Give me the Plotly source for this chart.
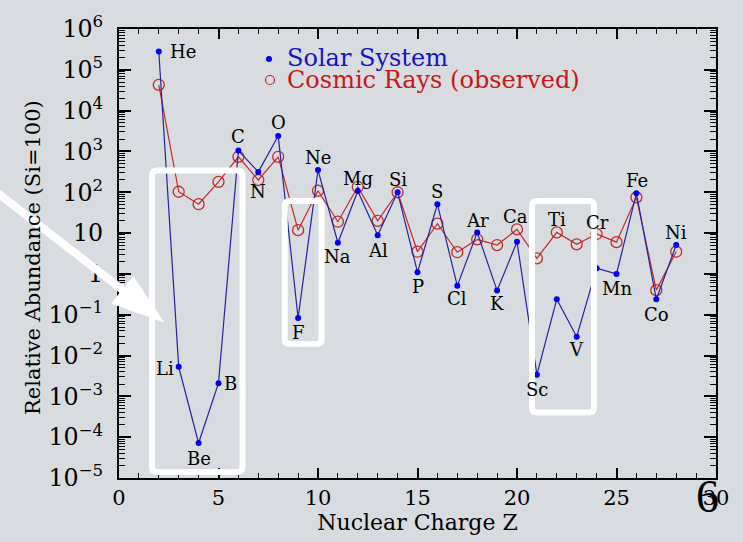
import math
import plotly.graph_objects as go

# ---------------- data ----------------
Z = list(range(2, 29))
elements = ["He", "Li", "Be", "B", "C", "N", "O", "F", "Ne", "Na", "Mg", "Al", "Si", "P",
            "S", "Cl", "Ar", "K", "Ca", "Sc", "Ti", "V", "Cr", "Mn", "Fe", "Co", "Ni"]
solar = [2.8e5, 5.3e-3, 7.2e-5, 2.1e-3, 1050, 316, 2400, 0.083, 350, 5.8, 108, 8.9, 100, 1.1,
         51, 0.51, 10.4, 0.39, 6.1, 3.4e-3, 0.24, 0.029, 1.38, 1.0, 94, 0.24, 5.1]
cosmic = [4.3e4, 103, 51, 180, 740, 200, 740, 11.8, 109, 19, 135, 20, 100, 3.5,
          17, 3.4, 7.0, 5.1, 12.3, 2.4, 10.4, 5.3, 9.5, 6.0, 75, 0.40, 3.5]
series_names = ["Solar System", "Cosmic Rays (observed)"]
x_title = "Nuclear Charge Z"
y_title = "Relative Abundance (Si=100)"

# label placement: (series to anchor, dx px, dy px (down positive))
label_pos = {
    "He": ("s", 24, 0), "Li": ("s", -14, 2), "Be": ("s", 0, 15), "B": ("s", 12, 0),
    "C": ("s", 0, -14), "N": ("s", 0, 20), "O": ("s", 0, -13), "F": ("s", 0, 14),
    "Ne": ("s", 0, -13), "Na": ("s", 0, 14), "Mg": ("s", 0, -12), "Al": ("s", 0, 15),
    "Si": ("s", 0, -13), "P": ("s", 0, 14), "S": ("s", 0, -13), "Cl": ("s", 0, 13),
    "Ar": ("s", 0, -12), "K": ("s", 0, 13), "Ca": ("c", -2, -13), "Sc": ("s", 0, 15),
    "Ti": ("c", 0, -13), "V": ("s", 0, 13), "Cr": ("c", 1, -12), "Mn": ("s", 0, 15),
    "Fe": ("s", 1, -13), "Co": ("s", 0, 15), "Ni": ("s", 0, -13),
}

# ---------------- layout geometry ----------------
W, H = 743, 542
L, R, T, B = 119, 716, 29, 478
BG = "#d8dbdf"
BLUE_LINE = "#24249e"
BLUE_PT = "#0000ee"
RED = "#c42a2a"
FONT = "DejaVu Serif"


def px(x, y):
    return ((x - L) / (R - L), 1 - (y - T) / (B - T))


def path_from(points, close=True):
    parts = []
    for cmd, pts in points:
        coords = " ".join("%.5f,%.5f" % px(*p) for p in pts)
        parts.append(cmd + " " + coords)
    return " ".join(parts) + (" Z" if close else "")


def rounded_rect(x0, y0, x1, y1, r=5):
    pts = [
        ("M", [(x0 + r, y0)]), ("L", [(x1 - r, y0)]), ("Q", [(x1, y0), (x1, y0 + r)]),
        ("L", [(x1, y1 - r)]), ("Q", [(x1, y1), (x1 - r, y1)]),
        ("L", [(x0 + r, y1)]), ("Q", [(x0, y1), (x0, y1 - r)]),
        ("L", [(x0, y0 + r)]), ("Q", [(x0, y0), (x0 + r, y0)]),
    ]
    return path_from(pts)


fig = go.Figure()

fig.add_trace(go.Scatter(
    x=Z, y=cosmic, mode="lines+markers", name=series_names[1],
    line=dict(color=RED, width=1.2),
    marker=dict(symbol="circle-open", size=11, color=RED, line=dict(width=1.3)),
    showlegend=False,
))
fig.add_trace(go.Scatter(
    x=Z, y=solar, mode="lines+markers", name=series_names[0],
    line=dict(color=BLUE_LINE, width=1.2),
    marker=dict(symbol="circle", size=6, color=BLUE_PT),
    showlegend=False,
))

annotations = []
for el, zz, sv, cv in zip(elements, Z, solar, cosmic):
    which, dx, dy = label_pos[el]
    v = sv if which == "s" else cv
    annotations.append(dict(
        x=zz, y=math.log10(v), xref="x", yref="y", text=el, showarrow=False,
        xshift=dx, yshift=-dy, font=dict(family=FONT, size=18, color="black"),
    ))

# legend as text
lx, ly = px(285, 58)
annotations.append(dict(x=lx, y=ly, xref="paper", yref="paper", text=series_names[0],
                        showarrow=False, xanchor="left", yanchor="middle",
                        font=dict(family=FONT, size=24, color="#1414c0")))
lx, ly = px(285, 80)
annotations.append(dict(x=lx, y=ly, xref="paper", yref="paper", text=series_names[1],
                        showarrow=False, xanchor="left", yanchor="middle",
                        font=dict(family=FONT, size=24, color="#c81818")))
# y-axis title
tx, ty = px(33, 258)
annotations.append(dict(x=tx, y=ty, xref="paper", yref="paper", text=y_title,
                        showarrow=False, xanchor="center", yanchor="middle", textangle=-90,
                        font=dict(family=FONT, size=21, color="black")))
# slide number
sx, sy = px(707, 496)
annotations.append(dict(x=sx, y=sy, xref="paper", yref="paper", text="6",
                        showarrow=False, xanchor="center", yanchor="middle",
                        font=dict(family="Liberation Serif", size=46, color="black")))

shapes = []
# legend markers
shapes.append(dict(type="circle", xref="paper", yref="paper",
                   x0=px(266, 0)[0], x1=px(272, 0)[0], y0=px(0, 62)[1], y1=px(0, 56)[1],
                   fillcolor=BLUE_PT, line=dict(width=0)))
shapes.append(dict(type="circle", xref="paper", yref="paper",
                   x0=px(265.5, 0)[0], x1=px(274.5, 0)[0], y0=px(0, 84.5)[1], y1=px(0, 75.5)[1],
                   fillcolor="rgba(0,0,0,0)", line=dict(width=1.2, color=RED)))

# white highlight boxes
for (x0, y0, x1, y1) in [(152, 170.5, 242.5, 472), (284.7, 201, 321.7, 344), (532, 201, 594, 412.5)]:
    shapes.append(dict(type="path", xref="paper", yref="paper", path=rounded_rect(x0, y0, x1, y1, 5),
                       line=dict(color="white", width=6), fillcolor="rgba(0,0,0,0)", layer="above"))

# arrow
a0 = px(-5, 191); a1 = px(124, 291)
shapes.append(dict(type="line", xref="paper", yref="paper", x0=a0[0], y0=a0[1], x1=a1[0], y1=a1[1],
                   line=dict(color="white", width=8), layer="above"))
shapes.append(dict(type="path", xref="paper", yref="paper",
                   path=path_from([("M", [(133.3, 276.7)]), ("L", [(111.7, 303.3)]), ("L", [(163.3, 321.7)])]),
                   fillcolor="white", line=dict(color="white", width=1), layer="above"))

fig.update_layout(
    width=W, height=H,
    margin=dict(l=L, r=W - R, t=T, b=H - B, autoexpand=False),
    paper_bgcolor=BG, plot_bgcolor=BG,
    font=dict(family=FONT, color="black"),
    showlegend=False,
    annotations=annotations,
    shapes=shapes,
)
fig.update_xaxes(
    range=[0, 30], tick0=0, dtick=5, ticks="inside", ticklen=10, tickwidth=1.5,
    tickcolor="black", showline=True, linecolor="black", linewidth=2, mirror="allticks",
    showgrid=False, zeroline=False,
    minor=dict(ticks="inside", ticklen=5, dtick=1, tickwidth=1.2, tickcolor="black", showgrid=False),
    tickfont=dict(family=FONT, size=21, color="black"),
    title=dict(text=x_title, font=dict(family=FONT, size=22, color="black"), standoff=4),
    automargin=False,
)
fig.update_yaxes(
    type="log", range=[-5, 6], tick0=0, dtick=1, exponentformat="power",
    ticks="inside", ticklen=12, tickwidth=1.5, tickcolor="black",
    showline=True, linecolor="black", linewidth=2, mirror="allticks",
    showgrid=False, zeroline=False,
    minor=dict(ticks="inside", ticklen=6, dtick="D1", tickwidth=1.2, tickcolor="black", showgrid=False),
    tickfont=dict(family=FONT, size=19, color="black"), ticklabelstandoff=10,
    automargin=False,
)

fig.write_html("out.html")
